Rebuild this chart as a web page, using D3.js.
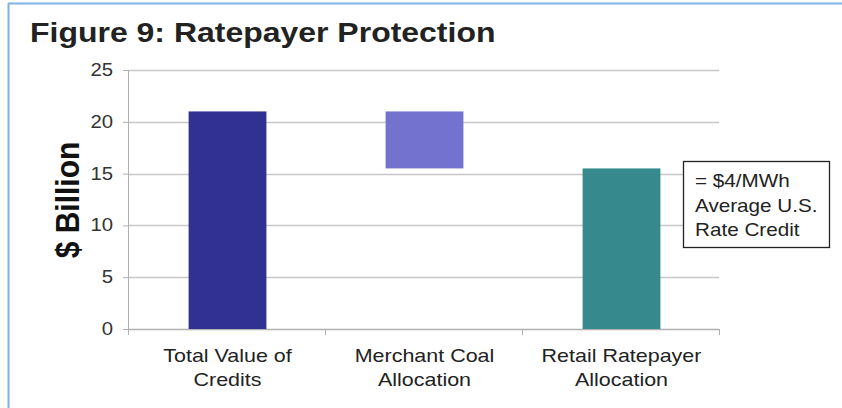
<!DOCTYPE html>
<html>
<head>
<meta charset="utf-8">
<script src="https://cdn.jsdelivr.net/npm/d3@7"></script>
<style>
  body { margin: 0; background: #fff; }
  svg { display: block; font-family: "Liberation Sans", Arial, sans-serif; }
</style>
</head>
<body>
<script>
// datos del grafico (cascada)
const categories = [["Total Value of", "Credits"], ["Merchant Coal", "Allocation"], ["Retail Ratepayer", "Allocation"]];
const barBase = [0, 15.5, 0];
const barTop = [21, 21, 15.5];
const barColors = ["#303193", "#7373cf", "#368a8e"];
const yTicks = [0, 5, 10, 15, 20, 25];
const noteLines = ["= $4/MWh", "Average U.S.", "Rate Credit"];

const svgWidth = 842, svgHeight = 408;
const margin = { top: 70, right: 123, bottom: 79, left: 128 };
const width = svgWidth - margin.left - margin.right;
const height = svgHeight - margin.top - margin.bottom;
const sx = 1.13; // el original esta estirado en horizontal

const svg = d3.select("body").append("svg")
    .attr("width", svgWidth)
    .attr("height", svgHeight);

// marco azul
svg.append("line").attr("x1", 8).attr("x2", svgWidth).attr("y1", 3.5).attr("y2", 3.5)
    .attr("stroke", "#7fb2e5").attr("stroke-width", 2);
svg.append("line").attr("x1", 8.5).attr("x2", 8.5).attr("y1", 3).attr("y2", svgHeight)
    .attr("stroke", "#7fb2e5").attr("stroke-width", 2);

svg.append("text")
    .attr("transform", "translate(30,42) scale(" + sx + ",1)")
    .attr("font-size", 28.3).attr("font-weight", "bold").attr("fill", "#222")
    .text("Figure 9: Ratepayer Protection");

const g = svg.append("g").attr("transform", "translate(" + margin.left + "," + margin.top + ")");

const xScale = d3.scaleBand().domain(d3.range(categories.length)).range([0, width]);
const yScale = d3.scaleLinear().domain([0, 25]).range([height, 0]);

// lineas de cuadricula
g.selectAll(".grid").data(yTicks.filter(d => d > 0)).enter().append("line")
    .attr("x1", 0).attr("x2", width)
    .attr("y1", d => Math.round(yScale(d)) + 0.5).attr("y2", d => Math.round(yScale(d)) + 0.5)
    .attr("stroke", "#c8c8c8").attr("stroke-width", 1.3);

// eje Y
const yAxis = g.append("g")
    .call(d3.axisLeft(yScale).tickValues(yTicks).tickSize(5).tickFormat(""));
yAxis.select(".domain").attr("stroke", "#b0b0b0");
yAxis.selectAll(".tick line").attr("stroke", "#b0b0b0");
g.selectAll(".ylbl").data(yTicks).enter().append("text")
    .attr("transform", d => "translate(-15," + (yScale(d) + 6) + ") scale(" + sx + ",1)")
    .attr("text-anchor", "end")
    .attr("font-size", 18).attr("fill", "#333")
    .text(d => d);

// eje X con marcas en los limites de categoria
g.append("line").attr("x1", 0).attr("x2", width)
    .attr("y1", height + 0.5).attr("y2", height + 0.5).attr("stroke", "#b0b0b0").attr("stroke-width", 1.3);
g.selectAll(".xtick").data(d3.range(categories.length + 1)).enter().append("line")
    .attr("x1", d => Math.round(d * xScale.step()) + 0.5).attr("x2", d => Math.round(d * xScale.step()) + 0.5)
    .attr("y1", height).attr("y2", height + 6)
    .attr("stroke", "#b0b0b0");

// barras
const barW = xScale.bandwidth() * 0.395;
g.selectAll(".bar").data(categories).enter().append("rect")
    .attr("x", (d, i) => xScale(i) + xScale.bandwidth() / 2 - barW / 2 + 1)
    .attr("width", barW)
    .attr("y", (d, i) => yScale(barTop[i]))
    .attr("height", (d, i) => yScale(barBase[i]) - yScale(barTop[i]))
    .attr("fill", (d, i) => barColors[i]);

// etiquetas de categoria
const lbl = g.selectAll(".cat").data(categories).enter().append("text")
    .attr("text-anchor", "middle")
    .attr("font-size", 19).attr("fill", "#222")
    .attr("transform", (d, i) => "translate(" + (xScale(i) + xScale.bandwidth() / 2 + 1) + "," + (height + 33) + ") scale(" + sx + ",1)");
lbl.selectAll("tspan").data(d => d).enter().append("tspan")
    .attr("x", 0).attr("dy", (d, i) => i === 0 ? 0 : 24)
    .text(d => d);

// titulo eje Y
svg.append("text")
    .attr("transform", "translate(79,200) scale(" + sx + ",1) rotate(-90)")
    .attr("text-anchor", "middle")
    .attr("font-size", 30).attr("font-weight", "bold").attr("fill", "#111")
    .text("$ Billion");

// nota
svg.append("rect").attr("x", 683.5).attr("y", 161.5).attr("width", 146).attr("height", 86)
    .attr("fill", "#fff").attr("stroke", "#222").attr("stroke-width", 1.3);
svg.append("g").selectAll("text").data(noteLines).enter().append("text")
    .attr("transform", (d, i) => "translate(695," + (187 + i * 24.5) + ") scale(" + sx + ",1)")
    .attr("font-size", 18.3).attr("fill", "#222")
    .text(d => d);
</script>
</body>
</html>
